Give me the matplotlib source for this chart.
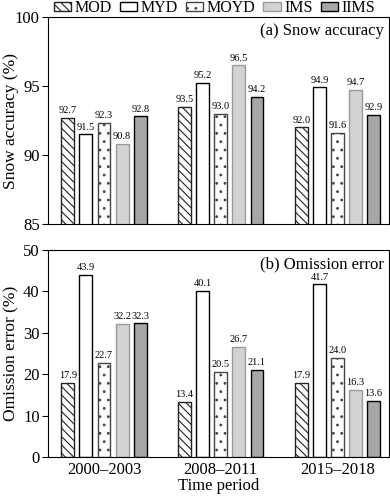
import matplotlib
import matplotlib.pyplot as plt
import numpy as np

matplotlib.use("Agg")

plt.rcParams["font.family"] = ["Liberation Serif", "DejaVu Serif"]
plt.rcParams["hatch.linewidth"] = 0.8

periods = ["2000\u20132003", "2008\u20132011", "2015\u20132018"]
products = ["MOD", "MYD", "MOYD", "IMS", "IIMS"]

accuracy = {
	"MOD": [92.7, 93.5, 92.0],
	"MYD": [91.5, 95.2, 94.9],
	"MOYD": [92.3, 93.0, 91.6],
	"IMS": [90.8, 96.5, 94.7],
	"IIMS": [92.8, 94.2, 92.9],
}
omission = {
	"MOD": [17.9, 13.4, 17.9],
	"MYD": [43.9, 40.1, 41.7],
	"MOYD": [22.7, 20.5, 24.0],
	"IMS": [32.2, 26.7, 16.3],
	"IIMS": [32.3, 21.1, 13.6],
}

# styles de chaque produit
styles = {
	"MOD": dict(facecolor="white", edgecolor="#222222", hatch="\\\\\\\\"),
	"MYD": dict(facecolor="white", edgecolor="black"),
	"MOYD": dict(facecolor="white", edgecolor="#444444", hatch=".."),
	"IMS": dict(facecolor="#d2d2d2", edgecolor="#9a9a9a"),
	"IIMS": dict(facecolor="#a6a6a6", edgecolor="black"),
}

fig = plt.figure(figsize=(3.9, 4.99), dpi=100)
ax_a = fig.add_axes([0.123, 0.551, 0.874, 0.415])
ax_b = fig.add_axes([0.123, 0.084, 0.874, 0.415])

x = np.arange(len(periods))
width, step = 0.11, 0.155


##################################################
def draw(ax, datas, ylim, yticks, ylabel, title):
	for i, name in enumerate(products):
		pos = x + (i - 2) * step
		bars = ax.bar(pos, datas[name], width, linewidth=1.0, label=name, **styles[name])
		for b, v in zip(bars, datas[name]):
			ax.annotate(f"{v:.1f}", (b.get_x() + b.get_width() / 2, v), xytext=(0, 2),
						textcoords="offset points", ha="center", va="bottom", fontsize=7.5)
	ax.set_ylim(*ylim)
	ax.set_yticks(yticks)
	ax.set_xlim(-0.48, 2.44)
	ax.tick_params(axis="y", labelsize=12, direction="out", length=4, pad=2)
	ax.tick_params(axis="x", length=0)
	ax.text(0.985, 0.93, title, transform=ax.transAxes, ha="right", va="center", fontsize=12)
	# étiquette de l'axe y placée à la main pour rester dans la figure
	pos_ax = ax.get_position()
	fig.text(0.028, pos_ax.y0 + pos_ax.height / 2, ylabel, rotation=90, ha="center", va="center", fontsize=12.5)


draw(ax_a, accuracy, (85, 100), [85, 90, 95, 100], "Snow accuracy (%)", "(a) Snow accuracy")
ax_a.set_xticks([])

draw(ax_b, omission, (0, 50), [0, 10, 20, 30, 40, 50], "Omission error (%)", "(b) Omission error")
ax_b.set_xticks(x)
ax_b.set_xticklabels(periods, fontsize=12)
ax_b.set_xlabel("Time period", fontsize=12, labelpad=0)

handles, labels = ax_a.get_legend_handles_labels()
fig.legend(handles, labels, loc="center", bbox_to_anchor=(0.55, 0.984), ncol=5, frameon=False,
		   fontsize=11.5, handlelength=1.1, handleheight=0.55, handletextpad=0.2, columnspacing=0.5,
		   borderaxespad=0, borderpad=0)

fig.savefig("out.png", dpi=100)
plt.close(fig)
